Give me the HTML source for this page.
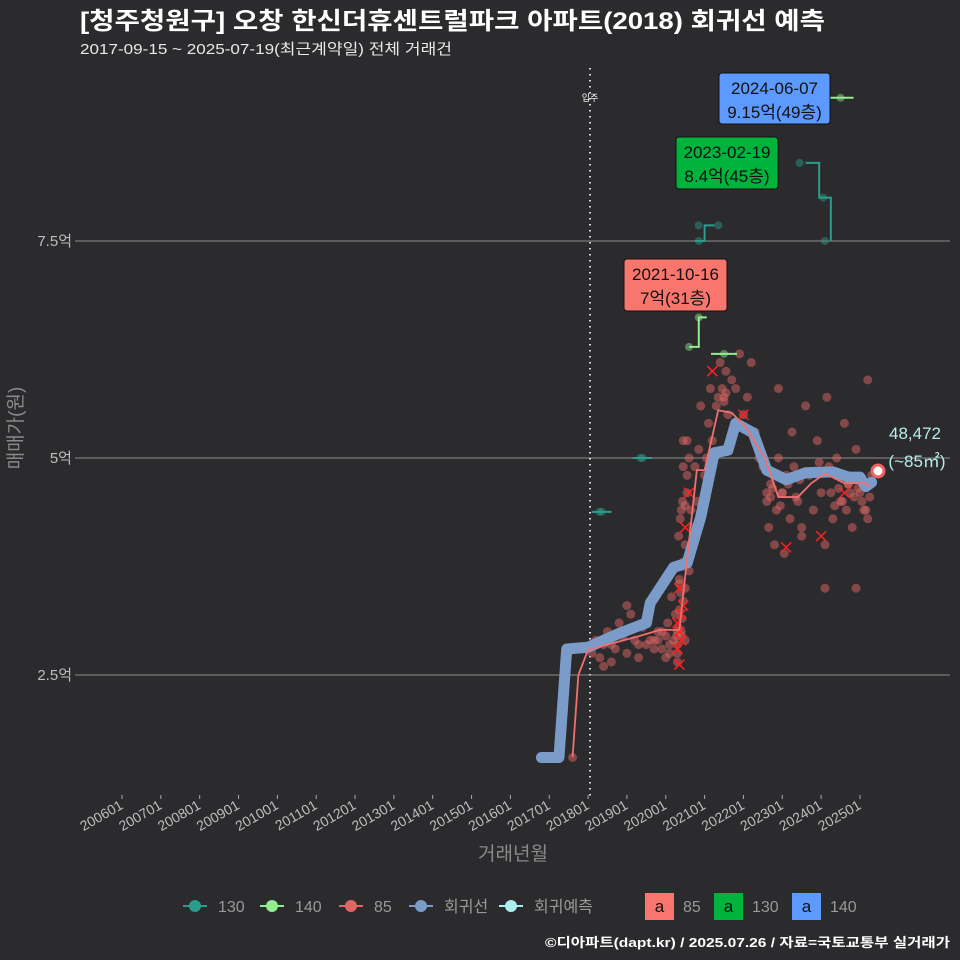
<!DOCTYPE html>
<html><head><meta charset="utf-8"><style>
body{margin:0;background:#2b2b2d;}
svg{display:block;font-family:"Liberation Sans","Noto Sans CJK KR",sans-serif;}
</style></head><body>
<svg id="c" width="960" height="960" viewBox="0 0 960 960">
<rect width="960" height="960" fill="#2b2b2d"/>
<text x="80" y="29" font-size="24" font-weight="bold" fill="#ffffff" textLength="745" lengthAdjust="spacingAndGlyphs">[청주청원구] 오창 한신더휴센트럴파크 아파트(2018) 회귀선 예측</text>
<text x="80" y="54" font-size="15" fill="#e8e8e8" textLength="372" lengthAdjust="spacingAndGlyphs">2017-09-15 ~ 2025-07-19(최근계약일) 전체 거래건</text>
<g id="grid"></g>
<g id="marks"></g>
<text x="513" y="860" font-size="19" fill="#8a8a8a" text-anchor="middle">거래년월</text>
<text transform="translate(22,428) rotate(-90)" font-size="19" fill="#8a8a8a" text-anchor="middle">매매가(원)</text>
<g id="legend"></g>
<text x="950" y="947" font-size="13" font-weight="bold" fill="#ffffff" text-anchor="end" textLength="405" lengthAdjust="spacingAndGlyphs">©디아파트(dapt.kr) / 2025.07.26 / 자료=국토교통부 실거래가</text>
</svg>
<script>
const xTickLabels=["200601","200701","200801","200901","201001","201101","201201","201301","201401","201501","201601","201701","201801","201901","202001","202101","202201","202301","202401","202501"];
const yTicks=[2.5,5,7.5];
const yTickLabels=["2.5억","5억","7.5억"];
const regT=[2016.8,2017.25,2017.45,2018.0,2018.8,2019.5,2019.6,2020.2,2020.55,2020.9,2021.25,2021.6,2021.8,2022.25,2022.6,2023.1,2023.6,2024.3,2024.7,2025.0,2025.15,2025.3];
const regV=[1.55,1.55,2.8,2.82,2.98,3.1,3.33,3.74,3.79,4.32,5.06,5.09,5.4,5.29,4.86,4.75,4.83,4.84,4.78,4.78,4.67,4.72];
const avgT=[2017.6,2017.75,2018.0,2019.25,2019.85,2020.35,2020.8,2021.0,2021.35,2021.7,2022.05,2022.55,2022.9,2023.4,2023.75,2024.1,2024.6,2025.15,2025.25];
const avgV=[1.55,2.5,2.79,2.94,3.02,3.02,4.86,4.86,5.55,5.52,5.36,5.0,4.55,4.55,4.71,4.82,4.71,4.71,4.67];
const s130T=[2018.25,2018.45,2019.3,2019.5,2020.75,2021.0,2021.25,2023.6,2023.95,2024.25];
const s130V=[4.38,4.38,5.0,5.0,7.5,7.68,7.68,8.4,8.0,7.5];
const s140T=[2020.6,2020.85,2021.5,2024.5];
const s140V=[6.28,6.62,6.2,9.15];
const sc85T=[2017.6,2018.1,2018.2,2018.3,2018.4,2018.5,2018.6,2018.7,2018.8,2018.9,2019.0,2019.1,2019.2,2019.3,2019.4,2019.5,2019.6,2019.7,2019.8,2019.9,2020.0,2020.05,2020.1,2020.15,2020.2,2020.25,2020.3,2020.35,2020.4,2020.4,2020.45,2020.45,2020.5,2020.5,2020.55,2020.6,2020.6,2020.7,2020.75,2020.8,2020.85,2020.9,2021.0,2021.1,2021.15,2021.3,2021.4,2021.5,2021.55,2021.6,2021.7,2021.8,2021.9,2022.0,2022.1,2022.2,2022.3,2022.4,2022.5,2022.6,2022.65,2022.7,2022.8,2022.85,2022.9,2023.0,2023.05,2023.1,2023.2,2023.25,2023.3,2023.4,2023.5,2023.6,2023.7,2023.8,2023.9,2024.0,2024.1,2024.15,2024.2,2024.3,2024.4,2024.5,2024.6,2024.7,2024.8,2024.9,2025.0,2025.1,2025.2,2025.3,2018.4,2019.0,2019.6,2020.3,2020.5,2021.2,2022.4,2023.0,2024.1,2024.7,2025.2,2023.5,2022.9,2024.9,2020.65,2021.05,
2020.3,2020.32,2020.35,2020.38,2020.4,2020.42,2020.45,2020.3,2020.35,2020.4,2020.33,2020.37,2020.43,2020.28,2019.9,2020.0,2020.1,2019.7,2019.8,2019.3,2018.9,2018.6,2020.55,2020.5,2020.45,2020.55,2021.35,2021.45,2021.5,2021.55,2022.7,2022.75,2022.95,2023.15,2023.35,2023.45,2024.25,2024.35,2024.45,2024.55,2024.65,2024.75,2024.85,2024.95,2025.05,2025.15,2025.25,2023.85,2023.95,2022.6];
const sc85V=[1.55,2.75,2.9,2.7,2.85,3.0,2.65,2.8,3.1,2.95,2.75,3.2,2.9,2.7,3.05,2.85,3.3,2.8,2.9,3.0,2.7,3.1,2.85,3.4,2.9,3.2,2.75,3.6,3.0,4.4,3.8,5.2,2.9,4.0,4.6,3.7,5.0,4.2,4.9,4.5,5.1,5.6,4.8,5.4,5.8,5.6,6.1,5.7,6.0,5.5,5.9,5.8,6.2,5.5,5.7,6.1,5.3,5.1,4.9,4.5,4.2,4.7,4.0,4.4,5.0,4.6,3.9,4.8,4.3,5.3,4.9,4.5,4.1,5.6,4.8,4.4,5.2,4.6,4.0,5.7,4.9,4.3,5.0,4.5,5.4,4.7,4.2,5.1,4.6,4.4,5.9,4.8,2.6,3.3,2.9,3.0,3.5,5.2,5.0,4.6,3.5,4.7,4.3,4.2,5.8,3.5,4.4,5.0,
2.85,3.05,3.25,3.45,2.95,3.15,3.35,2.65,3.55,3.75,4.1,4.3,4.5,2.95,2.8,2.95,2.75,2.9,3.0,2.85,3.0,2.85,4.8,4.45,4.9,5.2,5.7,5.8,5.65,5.75,4.55,4.65,4.45,4.7,4.55,4.75,4.6,4.45,4.65,4.5,4.4,4.6,4.55,4.65,4.5,4.4,4.55,4.85,4.95,4.6];
const x85T=[2020.35,2020.4,2020.3,2020.45,2020.35,2020.4,2020.3,2020.6,2020.5,2021.2,2022.0,2023.1,2024.0,2024.6,2020.35];
const x85V=[2.62,2.9,3.1,3.3,3.5,3.2,2.8,4.6,4.2,6.0,5.5,3.97,4.1,4.6,3.0];
const X=t=>122+(t-2006)*38.84;
const Y=v=>675-(v-2.5)*86.8;
const NS="http://www.w3.org/2000/svg";
function mk(tag,attrs,parent){const e=document.createElementNS(NS,tag);for(const k in attrs)e.setAttribute(k,attrs[k]);parent.appendChild(e);return e;}
const grid=document.getElementById('grid'),marks=document.getElementById('marks'),lg=document.getElementById('legend');
yTicks.forEach((v,i)=>{
 const l=mk('line',{x1:75,x2:950,y1:Y(v),y2:Y(v),stroke:'#8c8c8c','stroke-width':1},grid);
 
 
 const t=mk('text',{x:72,y:Y(v)+5,'font-size':15,fill:'#bdbdbd','text-anchor':'end'},grid);
 t.textContent=yTickLabels[i];
 
 
});
xTickLabels.forEach((s,i)=>{
 const x=X(2006+i);
 const tk=mk('line',{x1:x,x2:x,y1:795,y2:799,stroke:'#aaa'},grid);
 
 
 const t=mk('text',{x:x+2,y:808,'font-size':14,fill:'#bdbdbd','text-anchor':'end',transform:`rotate(-30 ${x+2} 808)`},grid);
 t.textContent=s;
 
 
});
const mv=mk('line',{x1:X(2018.05),x2:X(2018.05),y1:68,y2:800,stroke:'#ddd','stroke-width':2,'stroke-dasharray':'1.5 4.5'},marks);


const mt=mk('text',{x:X(2018.05),y:101,'font-size':9,fill:'#fff','text-anchor':'middle'},marks);
mt.textContent='입주';


function stepPath(T,V){let d=`M${X(T[0])},${Y(V[0])}`;for(let i=1;i<T.length;i++){d+=`H${X(T[i])}V${Y(V[i])}`;}return d;}
sc85T.forEach((t,i)=>{
 const c=mk('circle',{cx:X(t),cy:Y(sc85V[i]),r:4.5,fill:'#e06666','fill-opacity':0.5},marks);
 
 
});
x85T.forEach((t,i)=>{
 const x=X(t),y=Y(x85V[i]);
 const p=mk('path',{d:`M${x-5},${y-5}L${x+5},${y+5}M${x+5},${y-5}L${x-5},${y+5}`,stroke:'#ff2020','stroke-width':1.5},marks);
 
 
});
[[0,1],[2,3]].forEach(([a,b])=>{
 const l=mk('line',{x1:X(s130T[a])-6,x2:X(s130T[b])+6,y1:Y(s130V[a]),y2:Y(s130V[b]),stroke:'#2a9d8f','stroke-width':2},marks);
 
 
});
const p130a=mk('path',{d:stepPath(s130T.slice(4,7),s130V.slice(4,7)),stroke:'#2a9d8f','stroke-width':2,fill:'none'},marks);


const p130b=mk('path',{d:stepPath(s130T.slice(7),s130V.slice(7)),stroke:'#2a9d8f','stroke-width':2,fill:'none'},marks);


s130T.forEach((t,i)=>{
 const c=mk('circle',{cx:X(t)+(i%2?-6:4),cy:Y(s130V[i]),r:4,fill:'#2a9d8f','fill-opacity':0.45},marks);
 
 
});
const p140=mk('path',{d:stepPath(s140T.slice(0,2),s140V.slice(0,2))+`H${X(s140T[1])+8}`,stroke:'#90ee90','stroke-width':2,fill:'none'},marks);


[2,3].forEach(i=>{
 const l=mk('line',{x1:X(s140T[i])-13,x2:X(s140T[i])+13,y1:Y(s140V[i]),y2:Y(s140V[i]),stroke:'#90ee90','stroke-width':2},marks);
 
 
});
s140T.forEach((t,i)=>{
 const c=mk('circle',{cx:X(t),cy:Y(s140V[i]),r:4,fill:'#90ee90','fill-opacity':0.45},marks);
 
 
});
const rd=regT.map((t,i)=>`${i?'L':'M'}${X(t)},${Y(regV[i])}`).join('');
const rp=mk('path',{d:rd,stroke:'#7b9cc9',"stroke-width":11,fill:'none','stroke-linecap':'round','stroke-linejoin':'round'},marks);


const ad=avgT.map((t,i)=>`${i?'L':'M'}${X(t)},${Y(avgV[i])}`).join('');
const ap=mk('path',{d:ad,stroke:'#f07070','stroke-width':1.8,fill:'none'},marks);


const ec=mk('circle',{cx:878,cy:471,r:6,fill:'#fff',stroke:'#f06060','stroke-width':3},marks);


const l1=mk('text',{x:915,y:439,'font-size':17,fill:'#b8ecec','text-anchor':'middle'},marks);l1.textContent='48,472';


const l2=mk('text',{x:917,y:467,'font-size':17,fill:'#b8ecec','text-anchor':'middle'},marks);l2.textContent='(~85㎡)';


[[719,73,111,51,'#5c9aff','2024-06-07','9.15억(49층)','annotation-140'],[676,137,102,52,'#00b33c','2023-02-19','8.4억(45층)','annotation-130'],[624,259,103,52,'#f8766d','2021-10-16','7억(31층)','annotation-85']].forEach(b=>{
 const g=mk('g',{},marks);
 
 
 mk('rect',{x:b[0],y:b[1],width:b[2],height:b[3],rx:3,fill:b[4],stroke:'#111'},g);
 const t1=mk('text',{x:b[0]+b[2]/2,y:b[1]+21,'font-size':17,fill:'#111','text-anchor':'middle'},g);t1.textContent=b[5];
 const t2=mk('text',{x:b[0]+b[2]/2,y:b[1]+45,'font-size':17,fill:'#111','text-anchor':'middle'},g);t2.textContent=b[6];
});
[[195,'#2a9d8f','130'],[272,'#90ee90','140'],[351,'#e06666','85'],[421,'#7b9cc9','회귀선'],[511,'#aaf0ee','회귀예측']].forEach(e=>{
 const g=mk('g',{},lg);
 
 
 mk('line',{x1:e[0]-12,x2:e[0]+12,y1:906,y2:906,stroke:e[1],'stroke-width':2},g);
 mk('circle',{cx:e[0],cy:906,r:6,fill:e[1]},g);
 const t=mk('text',{x:e[0]+23,y:912,'font-size':16,fill:'#999'},g);t.textContent=e[2];
});
[[645,'#f8766d','85'],[714,'#00b33c','130'],[792,'#5c9aff','140']].forEach(e=>{
 const g=mk('g',{},lg);
 
 
 mk('rect',{x:e[0],y:893,width:29,height:27,fill:e[1]},g);
 const a=mk('text',{x:e[0]+14.5,y:912,'font-size':17,fill:'#111','text-anchor':'middle'},g);a.textContent='a';
 const t=mk('text',{x:e[0]+38,y:912,'font-size':16,fill:'#999'},g);t.textContent=e[2];
});
</script>
</body></html>
